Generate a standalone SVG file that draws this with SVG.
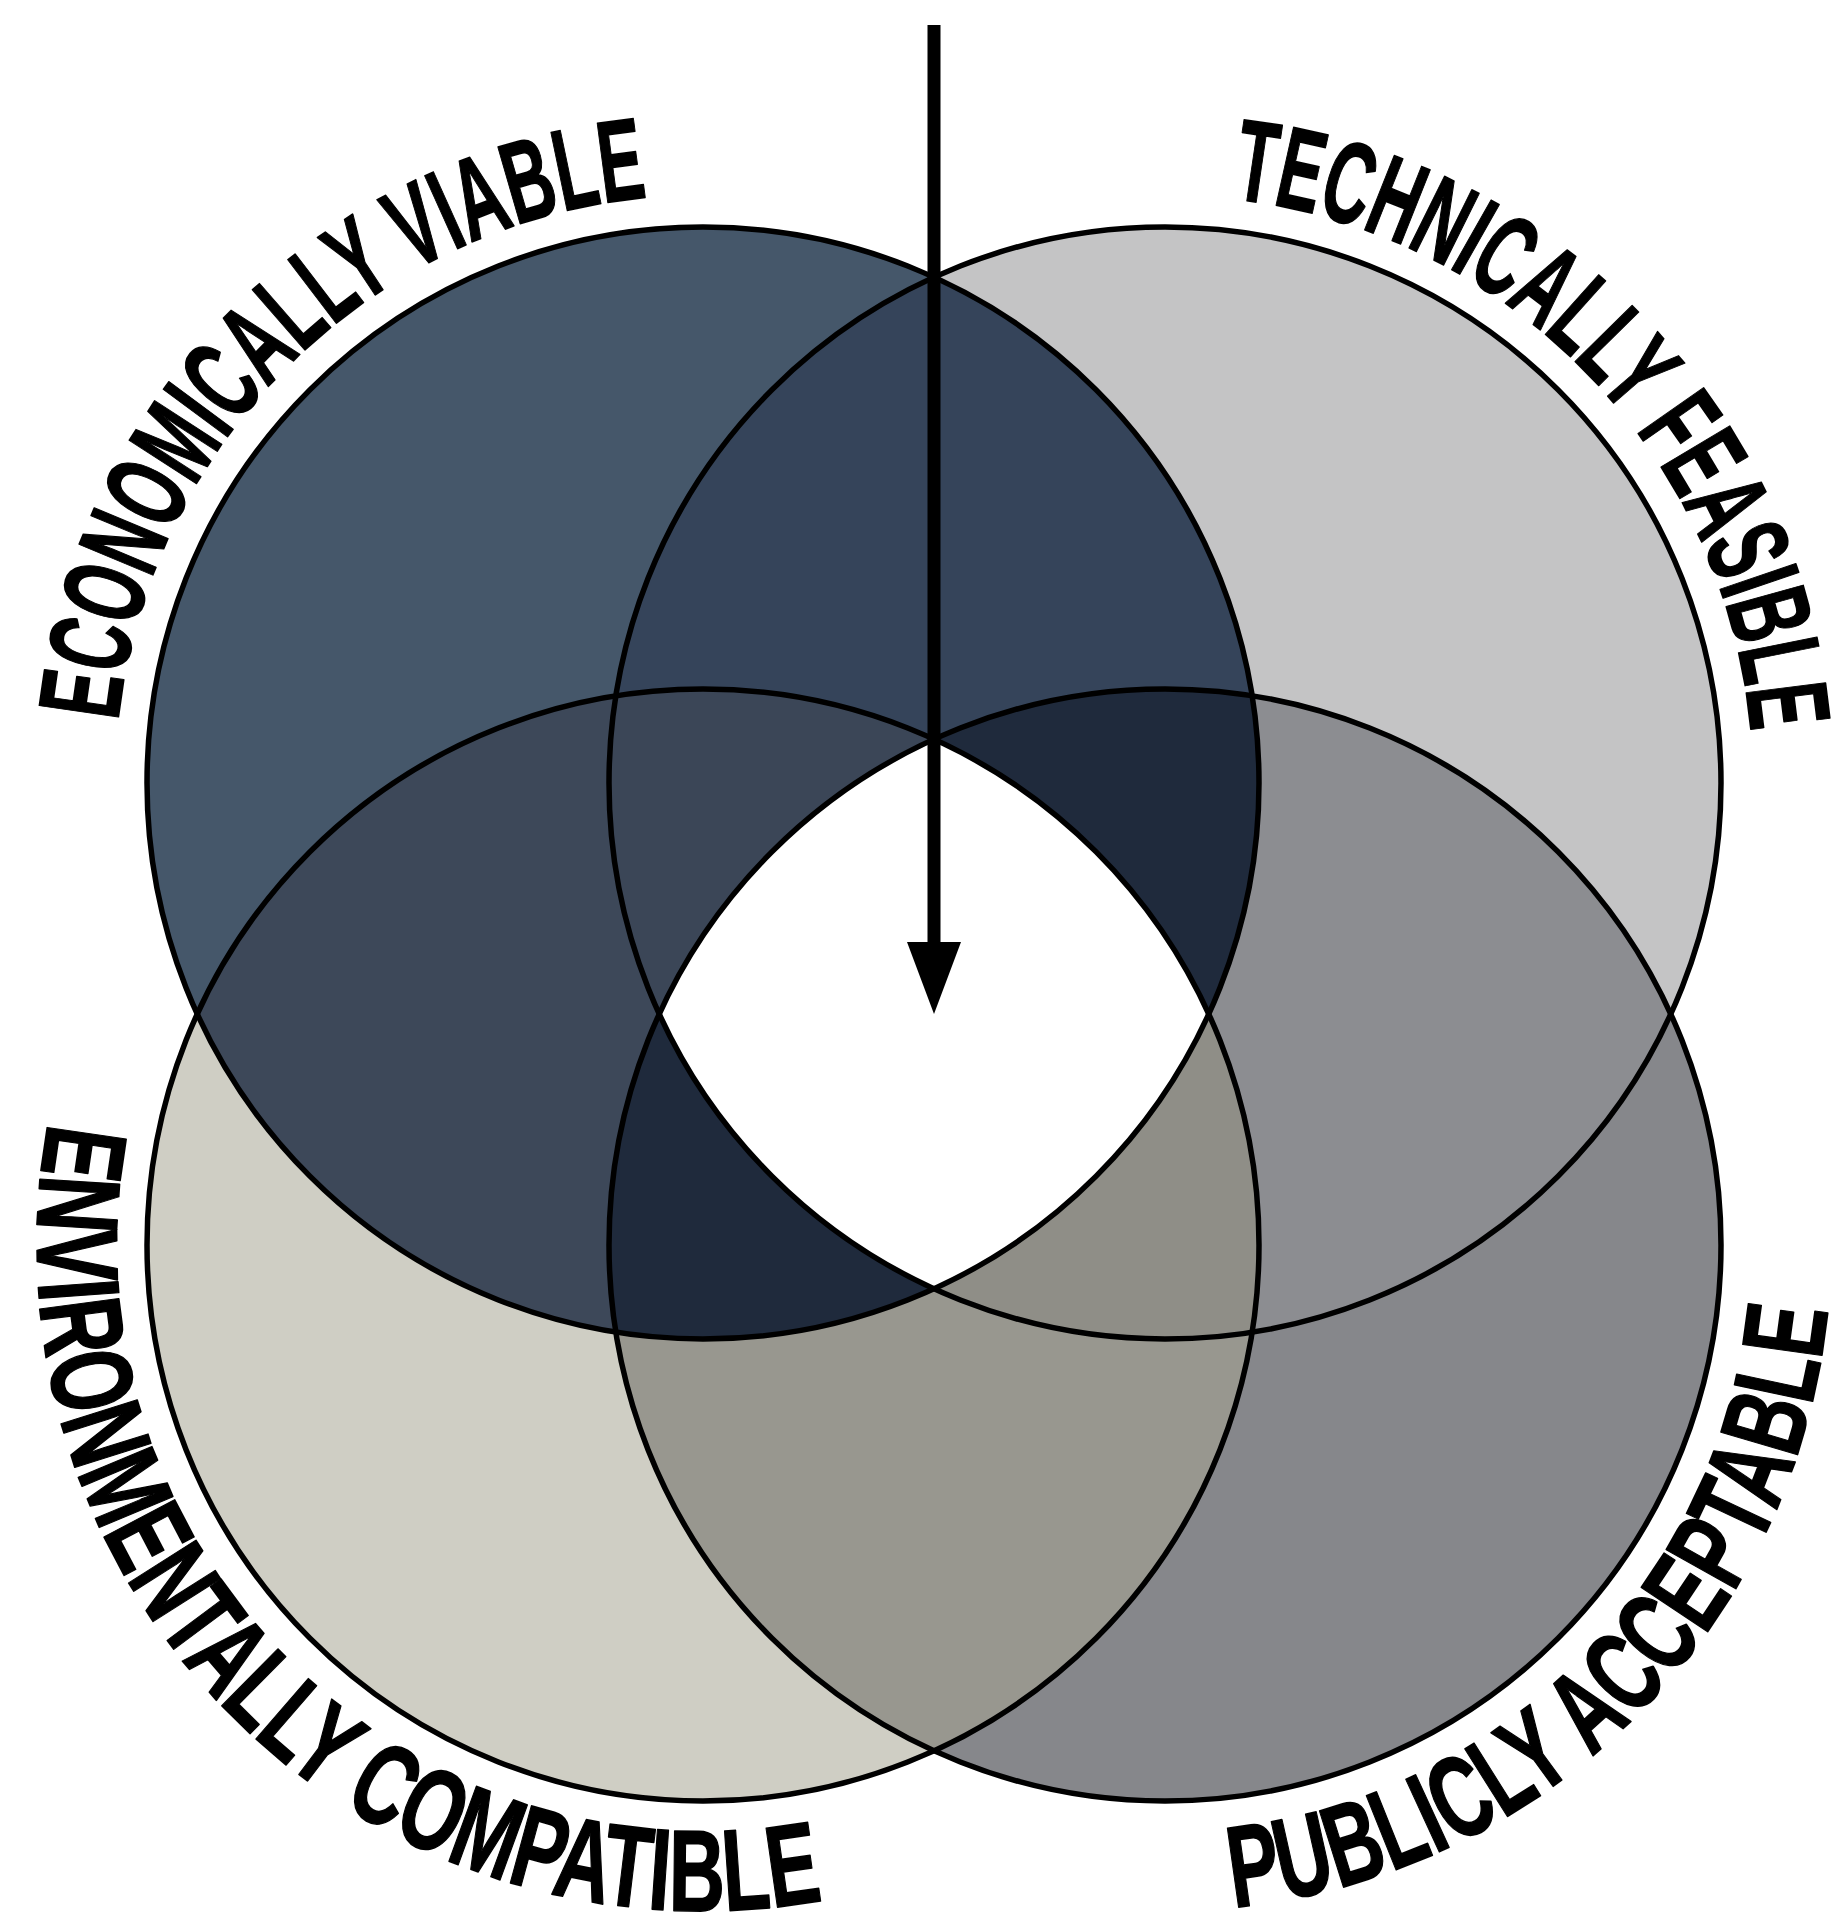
<svg xmlns="http://www.w3.org/2000/svg" width="1837" height="1913" viewBox="0 0 1837 1913">
<style>
.outline{fill:none;stroke:#000;stroke-width:5.5}
.label{font-family:'Liberation Sans Narrow','Liberation Sans',Arial,sans-serif;font-weight:bold;font-size:116px;fill:#000;stroke:#000;stroke-width:1.6;stroke-linejoin:round}
.arrow{stroke:#000;stroke-width:13;fill:none}
</style>
<defs>
<clipPath id="clipTL"><circle cx="703" cy="783" r="556"/></clipPath>
<clipPath id="clipTR"><circle cx="1165" cy="783" r="556"/></clipPath>
<clipPath id="clipBL"><circle cx="703" cy="1245" r="556"/></clipPath>
<clipPath id="clipBR"><circle cx="1165" cy="1245" r="556"/></clipPath>
<path id="arcTL" d="M118.2 721.5 A588 588 0 0 1 647.7 197.6"/>
<path id="arcTR" d="M1231.6 198.8 A588 588 0 0 1 1750.8 731.8"/>
<path id="arcBL" d="M48.4 1122.5 A666 666 0 0 0 823.2 1900.1"/>
<path id="arcBR" d="M1233.5 1907.5 A666 666 0 0 0 1827.8 1310"/>
<marker id="head" markerUnits="userSpaceOnUse" markerWidth="72" markerHeight="54" viewBox="0 0 72 54" refX="0" refY="27" orient="auto"><path d="M0 0 L72 27 L0 54 Z" fill="#000"/></marker>
</defs>
<rect width="1837" height="1913" fill="#fff"/>
<g id="regions">
<circle cx="703" cy="783" r="556" fill="#45576a"/>
<circle cx="1165" cy="783" r="556" fill="#c4c4c5"/>
<circle cx="703" cy="1245" r="556" fill="#cfcec4"/>
<circle cx="1165" cy="1245" r="556" fill="#86878b"/>
<g clip-path="url(#clipTL)"><circle cx="1165" cy="783" r="556" fill="#35445a"/><circle cx="703" cy="1245" r="556" fill="#3d4859"/></g>
<g clip-path="url(#clipBR)"><circle cx="1165" cy="783" r="556" fill="#8c8d91"/><circle cx="703" cy="1245" r="556" fill="#98978f"/></g>
<g clip-path="url(#clipTL)"><g clip-path="url(#clipTR)"><circle cx="703" cy="1245" r="556" fill="#3b4657"/><circle cx="1165" cy="1245" r="556" fill="#1f2a3c"/></g></g>
<g clip-path="url(#clipBL)"><g clip-path="url(#clipBR)"><circle cx="703" cy="783" r="556" fill="#1f2a3c"/><circle cx="1165" cy="783" r="556" fill="#8f8e87"/></g></g>
<g clip-path="url(#clipTL)"><g clip-path="url(#clipTR)"><g clip-path="url(#clipBL)"><circle cx="1165" cy="1245" r="556" fill="#ffffff"/></g></g></g>
</g>
<g id="node-economically-viable">
<circle class="outline" cx="703" cy="783" r="556"/>
<text class="label"><textPath href="#arcTL" textLength="806.6" lengthAdjust="spacingAndGlyphs">ECONOMICALLY VIABLE</textPath></text>
</g>
<g id="node-technically-feasible">
<circle class="outline" cx="1165" cy="783" r="556"/>
<text class="label"><textPath href="#arcTR" textLength="805.6" lengthAdjust="spacingAndGlyphs">TECHNICALLY FEASIBLE</textPath></text>
</g>
<g id="node-environmentally-compatible">
<circle class="outline" cx="703" cy="1245" r="556"/>
<text class="label"><textPath href="#arcBL" textLength="1290.3" lengthAdjust="spacingAndGlyphs">ENVIRONMENTALLY COMPATIBLE</textPath></text>
</g>
<g id="node-publicly-acceptable">
<circle class="outline" cx="1165" cy="1245" r="556"/>
<text class="label"><textPath href="#arcBR" textLength="912.5" lengthAdjust="spacingAndGlyphs">PUBLICLY ACCEPTABLE</textPath></text>
</g>
<g id="connectors">
<line class="arrow" x1="934" y1="25" x2="934" y2="942" marker-end="url(#head)"/>
</g>
</svg>
